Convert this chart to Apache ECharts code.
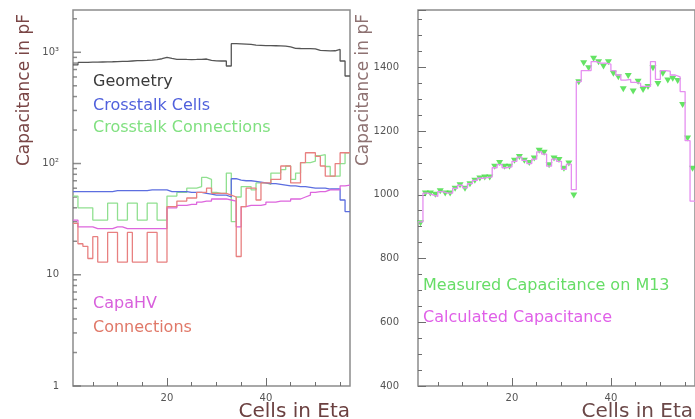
<!DOCTYPE html>
<html><head><meta charset="utf-8">
<script src="https://cdn.jsdelivr.net/npm/echarts@6/dist/echarts.min.js"></script>
<style>html,body{margin:0;padding:0;background:#fff}#c{width:695px;height:419px}</style>
</head><body><div id="c"></div>
<script>
// ---- data: 56 cells in eta, bin i spans [i, i+1] ----
const firstCell = 1;
const geometry = [770,810,812,815,815,818,820,822,825,828, 830,835,840,842,845,850,860,875,900,880,
  865,865,862,860,862,865,870,845,838,835, 835,753,1195,1190,1185,1180,1160,1155,1150,1150,
  1145,1140,1135,1120,1085,1082,1080,1078,1075,1040, 1035,1030,1032,1060,835,612];
const crosstalkCells = [56,56,56,56,56,56,56,56,57,57, 57,57,57,57,57,58,58,58,58,56,
  56,56,56,55,55,55,54,53,52,52, 52,50,73,71,70,70,69,68,67,66,
  66,65,64,63,63,62,62,61,60,60, 60,59,59,59,47,37];
const crosstalkConnections = [51,40,40,40,31,31,31,44,44,31, 31,44,44,31,31,44,44,31,31,51,
  51,55,55,60,60,62,75,72,55,54, 54,82,30,50,62,62,58,67,67,65,
  82,82,88,95,72,82,102,102,105,118, 120,94,77,77,100,125];
const capaHV = [31,27,27,27,26,26,26,26,27,27, 26,26,26,26,26,26,26,26,26,40,
  40,42,42,43,43,45,46,46,48,48, 48,47,46,27,41,42,42,42,43,45,
  45,46,46,46,48,48,50,52,55,56, 56,58,58,58,63,64];
const connections = [29,19,18,14,22,13,13,24,24,13, 13,24,13,13,13,24,24,13,13,41,
  41,46,46,49,49,55,55,60,54,54, 54,52,50,14.6,41,60,60,47,67,67,
  72,72,95,95,67,67,102,125,125,116, 95,77,77,100,125,125];
const measuredM13 = [911,1004,1004,1000,1011,1004,1004,1019,1030,1019, 1033,1044,1051,1054,1054,1088,1100,1088,1088,1107,
  1119,1107,1100,1114,1138,1132,1093,1114,1109,1082, 1098,998,1353,1413,1397,1427,1416,1403,1416,1380,
  1369,1331,1373,1324,1355,1329,1338,1397,1348,1380, 1359,1364,1357,1282,1177,1082];
const calculated = [915,1005,1000,995,1010,1005,1005,1020,1030,1022, 1035,1045,1052,1054,1056,1085,1095,1085,1088,1105,
  1118,1108,1098,1112,1135,1128,1090,1112,1105,1080, 1096,1016,1355,1390,1390,1418,1413,1413,1410,1390,
  1376,1360,1362,1353,1350,1340,1340,1418,1362,1390, 1388,1376,1370,1324,1170,980];

// ---- ticks ----
const xMajorTicks = [20, 40];
const xMinorTicks = [5, 10, 15, 25, 30, 35, 45, 50, 55];
const logMajorTicks = [1, 10, 100, 1000];
const logMajorLabels = {1: '1', 10: '10', 100: '10\u00b2', 1000: '10\u00b3'};
const logMinorTicks = [2,3,4,5,6,7,8,9, 20,30,40,50,60,70,80,90, 200,300,400,500,600,700,800,900, 2000];
const rightYLabels = [400, 600, 800, 1000, 1200, 1400];

function steps(vals) {
  const d = vals.map((v, i) => [firstCell + i, v]);
  d.push([firstCell + vals.length, vals[vals.length - 1]]);
  return d;
}
function centers(vals) { return vals.map((v, i) => [firstCell + i + 0.5, v]); }

const FONT = 'DejaVu Sans';
const frame = '#8c8c8c';
const tickColor = '#6e6e6e';
const labelColor = '#555';

function xAxes(grid) {
  return [
    {gridIndex: grid, type: 'value', position: 'bottom', min: 1, max: 57, axisLine: {show: false}, splitLine: {show: false},
     axisTick: {inside: true, length: 8, customValues: xMajorTicks, lineStyle: {color: tickColor, width: 1}},
     axisLabel: {customValues: xMajorTicks, color: labelColor, fontSize: 10, margin: 7, fontFamily: FONT}},
    {gridIndex: grid, type: 'value', position: 'bottom', min: 1, max: 57, axisLine: {show: false}, splitLine: {show: false},
     axisTick: {inside: true, length: 4, customValues: xMinorTicks, lineStyle: {color: tickColor, width: 1}},
     axisLabel: {show: false}}
  ];
}

function line(name, data, color, xi, yi) {
  return {name, type: 'line', step: 'end', data: steps(data), xAxisIndex: xi, yAxisIndex: yi,
    showSymbol: false, symbol: 'none', lineStyle: {color, width: 1.3}, silent: true};
}
function logTicks(vals, len) {
  return {type: 'scatter', xAxisIndex: 0, yAxisIndex: 0, clip: false,
    data: vals.map(v => [1, v]), symbol: 'rect', symbolSize: [len, 1.5], symbolOffset: [len / 2, 0],
    itemStyle: {color: '#707070'}};
}

const chart = echarts.init(document.getElementById('c'), null, {renderer: 'canvas'});
chart.setOption({
  animation: false,
  backgroundColor: '#ffffff',
  textStyle: {fontFamily: FONT},
  grid: [
    {left: 73, top: 10, width: 277, height: 376, show: true, borderColor: frame, borderWidth: 1.5, backgroundColor: 'transparent'},
    {left: 418, top: 10, width: 277, height: 376, show: true, borderColor: frame, borderWidth: 1.5, backgroundColor: 'transparent'}
  ],
  xAxis: [...xAxes(0), ...xAxes(1)],
  yAxis: [
    {gridIndex: 0, type: 'log', logBase: 10, min: 1, max: 2400, axisLine: {show: false}, splitLine: {show: false},
     axisTick: {show: false},
     axisLabel: {color: labelColor, fontSize: 10, margin: 14, fontFamily: FONT,
       formatter: v => { const k = Math.round(v); return logMajorLabels[k] !== undefined && Math.abs(v - k) < 1e-6 ? logMajorLabels[k] : ''; }}},
    {gridIndex: 1, type: 'value', min: 400, max: 1580, interval: 200, axisLine: {show: false}, splitLine: {show: false},
     axisTick: {inside: true, length: 8, lineStyle: {color: tickColor}},
     minorTick: {show: true, splitNumber: 4, length: 4, lineStyle: {color: tickColor}},
     minorSplitLine: {show: false},
     axisLabel: {color: labelColor, fontSize: 10, margin: 19, fontFamily: FONT,
       formatter: v => rightYLabels.indexOf(v) >= 0 ? String(v) : ''}}
  ],
  series: [
    logTicks(logMajorTicks, 8),
    logTicks(logMinorTicks, 4),
    line('Geometry', geometry, '#555555', 0, 0),
    line('Crosstalk Connections', crosstalkConnections, '#90e090', 0, 0),
    line('Crosstalk Cells', crosstalkCells, '#5c6ee0', 0, 0),
    line('CapaHV', capaHV, '#dd66dd', 0, 0),
    line('Connections', connections, '#e88080', 0, 0),
    line('Calculated Capacitance', calculated, '#e58ef0', 2, 1),
    {name: 'Measured Capacitance on M13', type: 'scatter', xAxisIndex: 2, yAxisIndex: 1, data: centers(measuredM13),
     symbol: 'path://M0,0 L10,0 L5,9 Z', symbolSize: [7, 6], itemStyle: {color: '#3ddc3d'}, silent: true}
  ],
  graphic: [
    {type: 'text', left: 93, top: 74, style: {text: 'Geometry', fill: '#3a3a3a', font: '16px "DejaVu Sans"'}},
    {type: 'text', left: 93, top: 98, style: {text: 'Crosstalk Cells', fill: '#5060dc', font: '16px "DejaVu Sans"'}},
    {type: 'text', left: 93, top: 120, style: {text: 'Crosstalk Connections', fill: '#80e080', font: '16px "DejaVu Sans"'}},
    {type: 'text', left: 93, top: 296, style: {text: 'CapaHV', fill: '#d860dc', font: '16px "DejaVu Sans"'}},
    {type: 'text', left: 93, top: 320, style: {text: 'Connections', fill: '#e07868', font: '16px "DejaVu Sans"'}},
    {type: 'text', left: 423, top: 278, style: {text: 'Measured Capacitance on M13', fill: '#66dd66', font: '16px "DejaVu Sans"'}},
    {type: 'text', left: 423, top: 310, style: {text: 'Calculated Capacitance', fill: '#e060e8', font: '16px "DejaVu Sans"'}},
    {type: 'text', x: 25, y: 90, rotation: Math.PI / 2, style: {text: 'Capacitance in pF', fill: '#7a4646', font: '17px "DejaVu Sans"', align: 'center', verticalAlign: 'middle'}},
    {type: 'text', x: 364, y: 90, rotation: Math.PI / 2, style: {text: 'Capacitance in pF', fill: '#8e7272', font: '17px "DejaVu Sans"', align: 'center', verticalAlign: 'middle'}},
    {type: 'text', x: 350, y: 412, style: {text: 'Cells in Eta', fill: '#6b4040', font: '20px "DejaVu Sans"', align: 'right', verticalAlign: 'middle'}},
    {type: 'text', x: 693, y: 412, style: {text: 'Cells in Eta', fill: '#6b4848', font: '20px "DejaVu Sans"', align: 'right', verticalAlign: 'middle'}}
  ]
});
</script>
</body></html>
